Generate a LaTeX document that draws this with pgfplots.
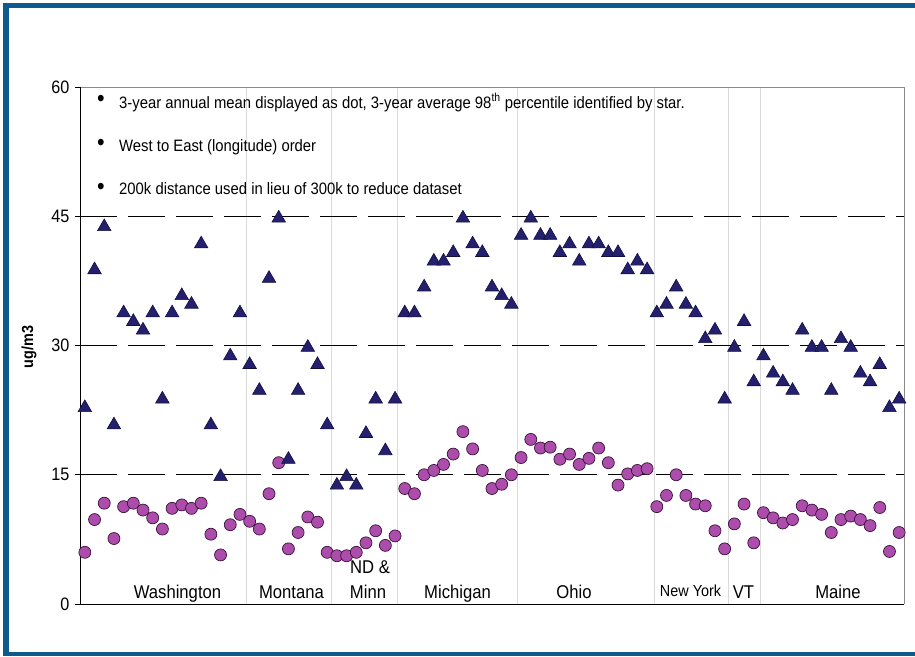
\documentclass[border=0pt]{standalone}
\usepackage{pgfplots}
\pgfplotsset{compat=1.18}
\usepackage{fontspec}
\setmainfont{Liberation Sans}[FakeStretch=0.9]
\definecolor{frameblue}{HTML}{0E5A8C}
\definecolor{sepgray}{HTML}{DADADA}
\definecolor{boxgray}{HTML}{8A8A8A}
\definecolor{trifill}{HTML}{24206E}
\definecolor{triedge}{HTML}{12103F}
\definecolor{circfill}{HTML}{AC4DAC}
\definecolor{circedge}{HTML}{3A123A}

% annual mean (dots)
\pgfplotstableread{
i  v
1  6.0
2  9.8
3  11.7
4  7.6
5  11.3
6  11.7
7  10.9
8  10.0
9  8.7
10 11.1
11 11.5
12 11.1
13 11.7
14 8.1
15 5.7
16 9.2
17 10.4
18 9.6
19 8.7
20 12.8
21 16.4
22 6.4
23 8.3
24 10.1
25 9.5
26 6.0
27 5.6
28 5.6
29 6.0
30 7.1
31 8.5
32 6.8
33 7.9
34 13.4
35 12.8
36 15.0
37 15.5
38 16.2
39 17.4
40 20.0
41 18.0
42 15.5
43 13.4
44 13.9
45 15.0
46 17.0
47 19.1
48 18.1
49 18.2
50 16.8
51 17.4
52 16.2
53 16.9
54 18.1
55 16.4
56 13.8
57 15.1
58 15.5
59 15.7
60 11.3
61 12.6
62 15.0
63 12.6
64 11.6
65 11.4
66 8.5
67 6.4
68 9.3
69 11.6
70 7.1
71 10.6
72 10.0
73 9.4
74 9.8
75 11.4
76 10.9
77 10.4
78 8.3
79 9.8
80 10.2
81 9.8
82 9.1
83 11.2
84 6.1
85 8.3
}\annualmean

% 98th percentile (triangles)
\pgfplotstableread{
i  v
1  23
2  39
3  44
4  21
5  34
6  33
7  32
8  34
9  24
10 34
11 36
12 35
13 42
14 21
15 15
16 29
17 34
18 28
19 25
20 38
21 45
22 17
23 25
24 30
25 28
26 21
27 14
28 15
29 14
30 20
31 24
32 18
33 24
34 34
35 34
36 37
37 40
38 40
39 41
40 45
41 42
42 41
43 37
44 36
45 35
46 43
47 45
48 43
49 43
50 41
51 42
52 40
53 42
54 42
55 41
56 41
57 39
58 40
59 39
60 34
61 35
62 37
63 35
64 34
65 31
66 32
67 24
68 30
69 33
70 26
71 29
72 27
73 26
74 25
75 32
76 30
77 30
78 25
79 31
80 30
81 27
82 26
83 28
84 23
85 24
}\pctile

\begin{document}
\begin{tikzpicture}
\useasboundingbox (0,0) rectangle (915pt,-656pt);
\fill[white] (0,0) rectangle (915pt,-656pt);
\fill[frameblue] (3pt,-3pt) rectangle (915pt,-8pt);
\fill[frameblue] (3pt,-3pt) rectangle (9pt,-656pt);
\fill[frameblue] (3pt,-651.5pt) rectangle (915pt,-656pt);

\begin{axis}[
    at={(80pt,-604pt)}, anchor=south west,
    width=824pt, height=517pt, scale only axis,
    xmin=0.5, xmax=85.5, ymin=0, ymax=60,
    xtick=\empty, ytick={0,15,30,45,60},
    ytick pos=left,
    tick align=outside, major tick length=5pt,
    tick style={black, line width=0.8pt},
    axis line style={draw=none},
    clip=false,
    /pgf/number format/assume math mode=true,
    yticklabel style={font=\fontsize{18}{18}\selectfont, xshift=-2pt},
]
% state separators
\pgfplotsinvokeforeach{17.62,26.46,33.2,45.65,59.75,67.4,70.66}{
    \draw[sepgray, line width=0.8pt] (axis cs:#1,0) -- (axis cs:#1,60);
}
% dashed reference lines
\pgfplotsinvokeforeach{15,30,45}{
    \draw[black, line width=0.9pt, dash pattern=on 36.7pt off 11.3pt]
        (axis cs:0.5,#1) -- (axis cs:85.5,#1);
}
\addplot[only marks, mark=*, mark size=6pt,
    mark options={fill=circfill, draw=circedge, line width=0.7pt}]
    table[x=i, y=v] {\annualmean};
\addplot[only marks, mark=triangle*, mark size=7.8pt,
    mark options={fill=trifill, draw=triedge, line width=0.6pt, yshift=-1.9pt}]
    table[x=i, y=v] {\pctile};
% axis box
\draw[boxgray, line width=0.9pt] (rel axis cs:0,1) -- (rel axis cs:1,1) -- (rel axis cs:1,0);
\draw[black, line width=1pt] (rel axis cs:0,1) -- (rel axis cs:0,0) -- (rel axis cs:1,0);
\end{axis}

% notes
\begin{scope}[every node/.style={font=\fontsize{16.5}{18}\selectfont, inner sep=0pt}]
\node[font=\fontsize{24}{24}\selectfont] at (101pt,-101pt) {•};
\node[font=\fontsize{24}{24}\selectfont] at (101pt,-145pt) {•};
\node[font=\fontsize{24}{24}\selectfont] at (101pt,-188.5pt) {•};
\node[anchor=base west] at (119pt,-108pt) {3-year annual mean displayed as dot, 3-year average 98\textsuperscript{th} percentile identified by star.};
\node[anchor=base west] at (119pt,-151.5pt) {West to East (longitude) order};
\node[anchor=base west] at (119pt,-194.5pt) {200k distance used in lieu of 300k to reduce dataset};
\end{scope}

% state names
\begin{scope}[every node/.style={font=\fontsize{18.5}{20}\selectfont, inner sep=0pt, anchor=base}]
\node at (177.5pt,-598pt) {Washington};
\node at (291.5pt,-598pt) {Montana};
\node at (370pt,-573pt) {ND \&};
\node at (368pt,-598pt) {Minn};
\node at (457.5pt,-598pt) {Michigan};
\node at (574pt,-598pt) {Ohio};
\node[font=\fontsize{16}{18}\selectfont] at (690.5pt,-596pt) {New York};
\node at (743.5pt,-598pt) {VT};
\node at (838pt,-598pt) {Maine};
\end{scope}

\node[rotate=90, font=\bfseries\fontsize{16}{18}\selectfont, inner sep=0pt] at (29pt,-347pt) {ug/m3};
\end{tikzpicture}
\end{document}
